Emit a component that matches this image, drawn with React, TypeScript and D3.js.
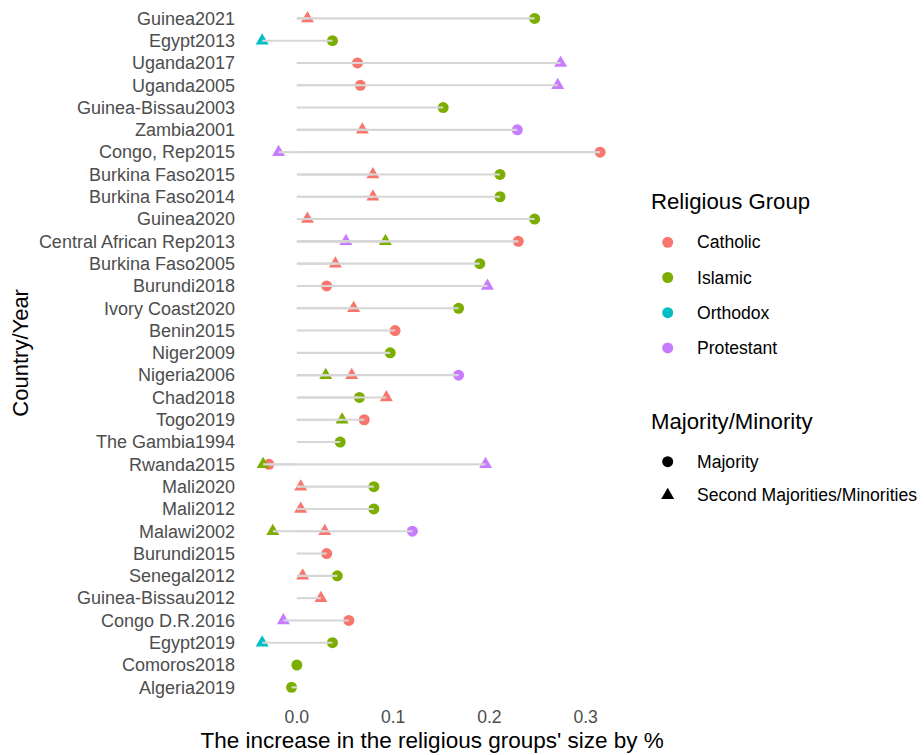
import React from "react";
import * as d3 from "d3";

type Role = "majority" | "second";
type Entry = [string, number, Role];

// Country/year rows, top to bottom
const rows: string[] = [
  "Guinea2021", "Egypt2013", "Uganda2017", "Uganda2005", "Guinea-Bissau2003",
  "Zambia2001", "Congo, Rep2015", "Burkina Faso2015", "Burkina Faso2014", "Guinea2020",
  "Central African Rep2013", "Burkina Faso2005", "Burundi2018", "Ivory Coast2020", "Benin2015",
  "Niger2009", "Nigeria2006", "Chad2018", "Togo2019", "The Gambia1994",
  "Rwanda2015", "Mali2020", "Mali2012", "Malawi2002", "Burundi2015",
  "Senegal2012", "Guinea-Bissau2012", "Congo D.R.2016", "Egypt2019", "Comoros2018",
  "Algeria2019",
];

const catholic: Entry[] = [
  ["Guinea2021", 0.011, "second"],
  ["Uganda2017", 0.063, "majority"],
  ["Uganda2005", 0.066, "majority"],
  ["Zambia2001", 0.068, "second"],
  ["Congo, Rep2015", 0.315, "majority"],
  ["Burkina Faso2015", 0.079, "second"],
  ["Burkina Faso2014", 0.079, "second"],
  ["Guinea2020", 0.011, "second"],
  ["Central African Rep2013", 0.23, "majority"],
  ["Burkina Faso2005", 0.04, "second"],
  ["Burundi2018", 0.031, "majority"],
  ["Ivory Coast2020", 0.059, "second"],
  ["Benin2015", 0.102, "majority"],
  ["Nigeria2006", 0.057, "second"],
  ["Chad2018", 0.093, "second"],
  ["Togo2019", 0.07, "majority"],
  ["Rwanda2015", -0.029, "majority"],
  ["Mali2020", 0.004, "second"],
  ["Mali2012", 0.004, "second"],
  ["Malawi2002", 0.029, "second"],
  ["Burundi2015", 0.031, "majority"],
  ["Senegal2012", 0.006, "second"],
  ["Guinea-Bissau2012", 0.025, "second"],
  ["Congo D.R.2016", 0.054, "majority"],
];

const islamic: Entry[] = [
  ["Guinea2021", 0.247, "majority"],
  ["Egypt2013", 0.037, "majority"],
  ["Guinea-Bissau2003", 0.152, "majority"],
  ["Burkina Faso2015", 0.211, "majority"],
  ["Burkina Faso2014", 0.211, "majority"],
  ["Guinea2020", 0.247, "majority"],
  ["Central African Rep2013", 0.092, "second"],
  ["Burkina Faso2005", 0.19, "majority"],
  ["Ivory Coast2020", 0.168, "majority"],
  ["Niger2009", 0.097, "majority"],
  ["Nigeria2006", 0.03, "second"],
  ["Chad2018", 0.065, "majority"],
  ["Togo2019", 0.047, "second"],
  ["The Gambia1994", 0.045, "majority"],
  ["Rwanda2015", -0.035, "second"],
  ["Mali2020", 0.08, "majority"],
  ["Mali2012", 0.08, "majority"],
  ["Malawi2002", -0.025, "second"],
  ["Senegal2012", 0.042, "majority"],
  ["Egypt2019", 0.037, "majority"],
  ["Comoros2018", 0.0, "majority"],
  ["Algeria2019", -0.0055, "majority"],
];

const orthodox: Entry[] = [
  ["Egypt2013", -0.036, "second"],
  ["Egypt2019", -0.036, "second"],
];

const protestant: Entry[] = [
  ["Uganda2017", 0.274, "second"],
  ["Uganda2005", 0.271, "second"],
  ["Zambia2001", 0.229, "majority"],
  ["Congo, Rep2015", -0.019, "second"],
  ["Central African Rep2013", 0.051, "second"],
  ["Burundi2018", 0.198, "second"],
  ["Nigeria2006", 0.168, "majority"],
  ["Rwanda2015", 0.196, "second"],
  ["Malawi2002", 0.12, "majority"],
  ["Congo D.R.2016", -0.014, "second"],
];

const groupNames = ["Catholic", "Islamic", "Orthodox", "Protestant"];
const groupColors = ["#F8766D", "#7CAE00", "#00BFC4", "#C77CFF"];
const roleNames = ["Majority", "Second Majorities/Minorities"];
const xTicks = [0, 0.1, 0.2, 0.3];

const FONT = "'Liberation Sans', Arial, Helvetica, sans-serif";

export default function App() {
  const width = 924;
  const height = 755;
  const panel = { left: 245.3, right: 617, top: 5, bottom: 700.7 };

  const groups = [catholic, islamic, orthodox, protestant];
  const points = groups.flatMap((g, gi) =>
    g.map(([row, value, role]) => ({ row, value, role, gi }))
  );

  const [lo, hi] = d3.extent(points, (p) => p.value) as [number, number];
  const pad = (hi - lo) * 0.05;
  const x = d3.scaleLinear().domain([lo - pad, hi + pad]).range([panel.left, panel.right]);
  const y = d3.scalePoint<string>().domain(rows).range([panel.top, panel.bottom]).padding(0.6);

  const circlePath = d3.symbol(d3.symbolCircle, Math.PI * 5.5 * 5.5)()!;
  const trianglePath = d3.symbol(d3.symbolTriangle, 73)()!;
  const shapeFor = (role: Role) => (role === "majority" ? circlePath : trianglePath);

  const legendX = 651;
  const keyX = 667.7;
  const labelX = 697;

  return (
    <svg
      width={width}
      height={height}
      style={{ position: "absolute", left: 0, top: 0, background: "#fff" }}
      fontFamily={FONT}
    >
      {/* points */}
      <g>
        {points.map((p, i) => (
          <path
            key={`p${i}`}
            d={shapeFor(p.role)}
            transform={`translate(${x(p.value)},${y(p.row)})`}
            fill={groupColors[p.gi]}
          />
        ))}
      </g>
      {/* segments from zero to each value */}
      <g>
        {points.map((p, i) => (
          <line
            key={`s${i}`}
            x1={x(0)}
            x2={x(p.value)}
            y1={y(p.row)}
            y2={y(p.row)}
            stroke="#D6D6D6"
            strokeWidth={2.1}
          />
        ))}
      </g>

      {/* y axis labels */}
      <g fontSize={18} fill="#4D4D4D" textAnchor="end">
        {rows.map((r) => (
          <text key={r} x={235} y={y(r)!} dy="0.35em">
            {r}
          </text>
        ))}
      </g>

      {/* x axis labels */}
      <g fontSize={17.6} fill="#4D4D4D" textAnchor="middle">
        {xTicks.map((t) => (
          <text key={t} x={x(t)} y={723}>
            {d3.format(".1f")(t)}
          </text>
        ))}
      </g>

      {/* axis titles */}
      <text x={(panel.left + panel.right) / 2 + 1} y={748} fontSize={22.5} textAnchor="middle" fill="#000">
        The increase in the religious groups' size by %
      </text>
      <text
        transform={`translate(28,${(panel.top + panel.bottom) / 2}) rotate(-90)`}
        fontSize={22}
        textAnchor="middle"
        fill="#000"
      >
        Country/Year
      </text>

      {/* colour legend */}
      <text x={legendX} y={209} fontSize={22.2} fill="#000">
        Religious Group
      </text>
      {groupNames.map((g, i) => {
        const cy = 242.3 + i * 35.2;
        return (
          <g key={g}>
            <path d={circlePath} transform={`translate(${keyX},${cy})`} fill={groupColors[i]} />
            <text x={labelX} y={cy} dy="0.35em" fontSize={17.6} fill="#000">
              {g}
            </text>
          </g>
        );
      })}

      {/* shape legend */}
      <text x={legendX} y={429} fontSize={22.2} fill="#000">
        Majority/Minority
      </text>
      {roleNames.map((r, i) => {
        const cy = 461.7 + i * 33.5;
        return (
          <g key={r}>
            <path
              d={i === 0 ? circlePath : trianglePath}
              transform={`translate(${keyX},${cy})`}
              fill="#000"
            />
            <text x={labelX} y={cy} dy="0.35em" fontSize={17.6} fill="#000">
              {r}
            </text>
          </g>
        );
      })}
    </svg>
  );
}
